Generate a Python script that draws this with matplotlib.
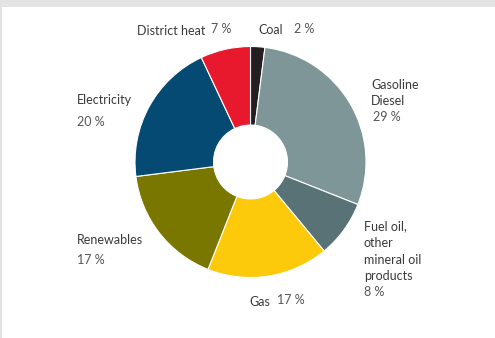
import matplotlib
matplotlib.use("Agg")
import matplotlib.pyplot as plt
from matplotlib.patches import Rectangle

plt.rcParams['font.family'] = ['Lato', 'DejaVu Sans']

# Final energy consumption shares, clockwise from the top
categories = ["Coal", "Gasoline\nDiesel", "Fuel oil,\nother\nmineral oil\nproducts",
              "Gas", "Renewables", "Electricity", "District heat"]
shares = [2, 29, 8, 17, 17, 20, 7]
colors = ["#231f20", "#7f9699", "#587275", "#fcc90b", "#7a7700", "#044a72", "#e8192c"]

W, H = 495, 338
fig = plt.figure(figsize=(W / 100, H / 100), dpi=100)
fig.patch.set_facecolor("white")

# light frame along the top and left edges
fig.add_artist(Rectangle((0, 1 - 7 / H), 1, 7 / H, transform=fig.transFigure,
                         facecolor="#e3e3e3", edgecolor="none"))
fig.add_artist(Rectangle((0, 0), 2 / W, 1, transform=fig.transFigure,
                         facecolor="#e3e3e3", edgecolor="none"))

cx, cy, r = 250.5, 162, 115.5
ax = fig.add_axes([(cx - r) / W, (H - cy - r) / H, 2 * r / W, 2 * r / H])
ax.pie(shares, colors=colors, startangle=90, counterclock=False, radius=1,
       wedgeprops=dict(width=1 - 0.32, edgecolor="white", linewidth=0.8))
ax.set_xlim(-1, 1)
ax.set_ylim(-1, 1)
ax.set_aspect("equal")
ax.axis("off")

name_color = "#3a3a3a"
pct_color = "#555555"
fs = 9


def put(x, y, s, color=name_color, size=fs):
    fig.text(x / W, 1 - y / H, s, ha="left", va="center", color=color, fontsize=size)


def pct(v):
    return f"{v} %"


# Coal / District heat along the top
put(258, 30, "Coal")
put(294, 29, pct(shares[0]), pct_color)
put(137, 31, "District heat")
put(211, 29, pct(shares[6]), pct_color)

# Gasoline / Diesel
for i, line in enumerate(categories[1].split("\n")):
    put(371, 85 + i * 16.5, line)
put(373, 117, pct(shares[1]), pct_color)

# Fuel oil
for i, line in enumerate(categories[2].split("\n")):
    put(364, 226.5 + i * 16.5, line)
put(364, 292, pct(shares[2]), pct_color)

# Gas
put(249, 301.5, "Gas")
put(277, 300, pct(shares[3]), pct_color)

# Renewables / Electricity on the left
put(77, 240, categories[4])
put(77, 259.5, pct(shares[4]), pct_color)
put(77, 100.5, categories[5])
put(77, 122.5, pct(shares[5]), pct_color)

fig.savefig("out.png", dpi=100, facecolor="white")
